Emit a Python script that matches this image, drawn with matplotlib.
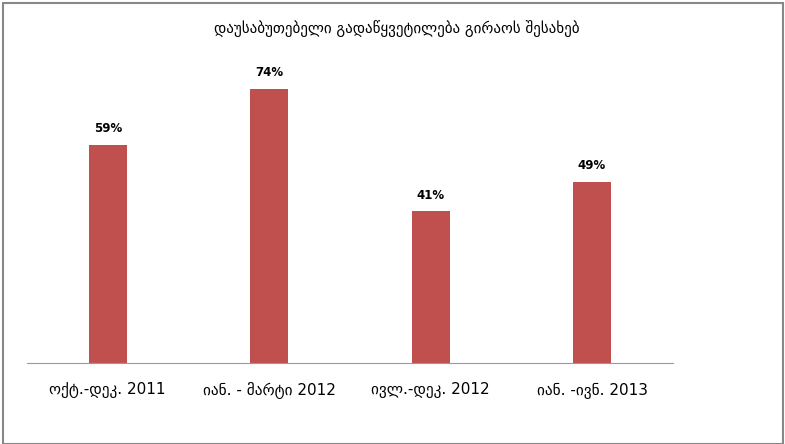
import matplotlib
matplotlib.use('Agg')
import matplotlib.pyplot as plt
from matplotlib.patches import Rectangle

# data
periods = ['ოქტ.-დეკ. 2011', 'იან. - მარტი 2012', 'ივლ.-დეკ. 2012', 'იან. -ივნ. 2013']
values = [59, 74, 41, 49]
title = 'დაუსაბუთებელი გადაწყვეტილება გირაოს შესახებ'

plt.rcParams['font.family'] = ['DejaVu Sans']

fig = plt.figure(figsize=(7.85, 4.44), dpi=100)
ax = fig.add_axes([0.0344, 0.1824, 0.8226, 0.667])

x = range(len(values))
bars = ax.bar(x, values, width=0.235, color='#C0504D')

for xi, v in zip(x, values):
    ax.annotate(f'{v}%', (xi, v), xytext=(0, 7), textcoords='offset points',
                ha='center', va='bottom', fontsize=8.5, fontweight='bold')

ax.set_xlim(-0.5, len(values) - 0.5)
ax.set_ylim(0, 80)
ax.set_xticks(list(x))
ax.set_xticklabels(periods, fontsize=11)
ax.tick_params(axis='x', length=0, pad=14)
ax.set_yticks([])
for side in ['top', 'right', 'left']:
    ax.spines[side].set_visible(False)
ax.spines['bottom'].set_color('#999999')

fig.text(0.505, 0.935, title, ha='center', va='center', fontsize=10.8)

# outer border
fig.patches.append(Rectangle((0.004, 0.0), 0.993, 0.994, transform=fig.transFigure,
                             fill=False, edgecolor='#888888', linewidth=1.5))

fig.savefig('out.png', dpi=100)
